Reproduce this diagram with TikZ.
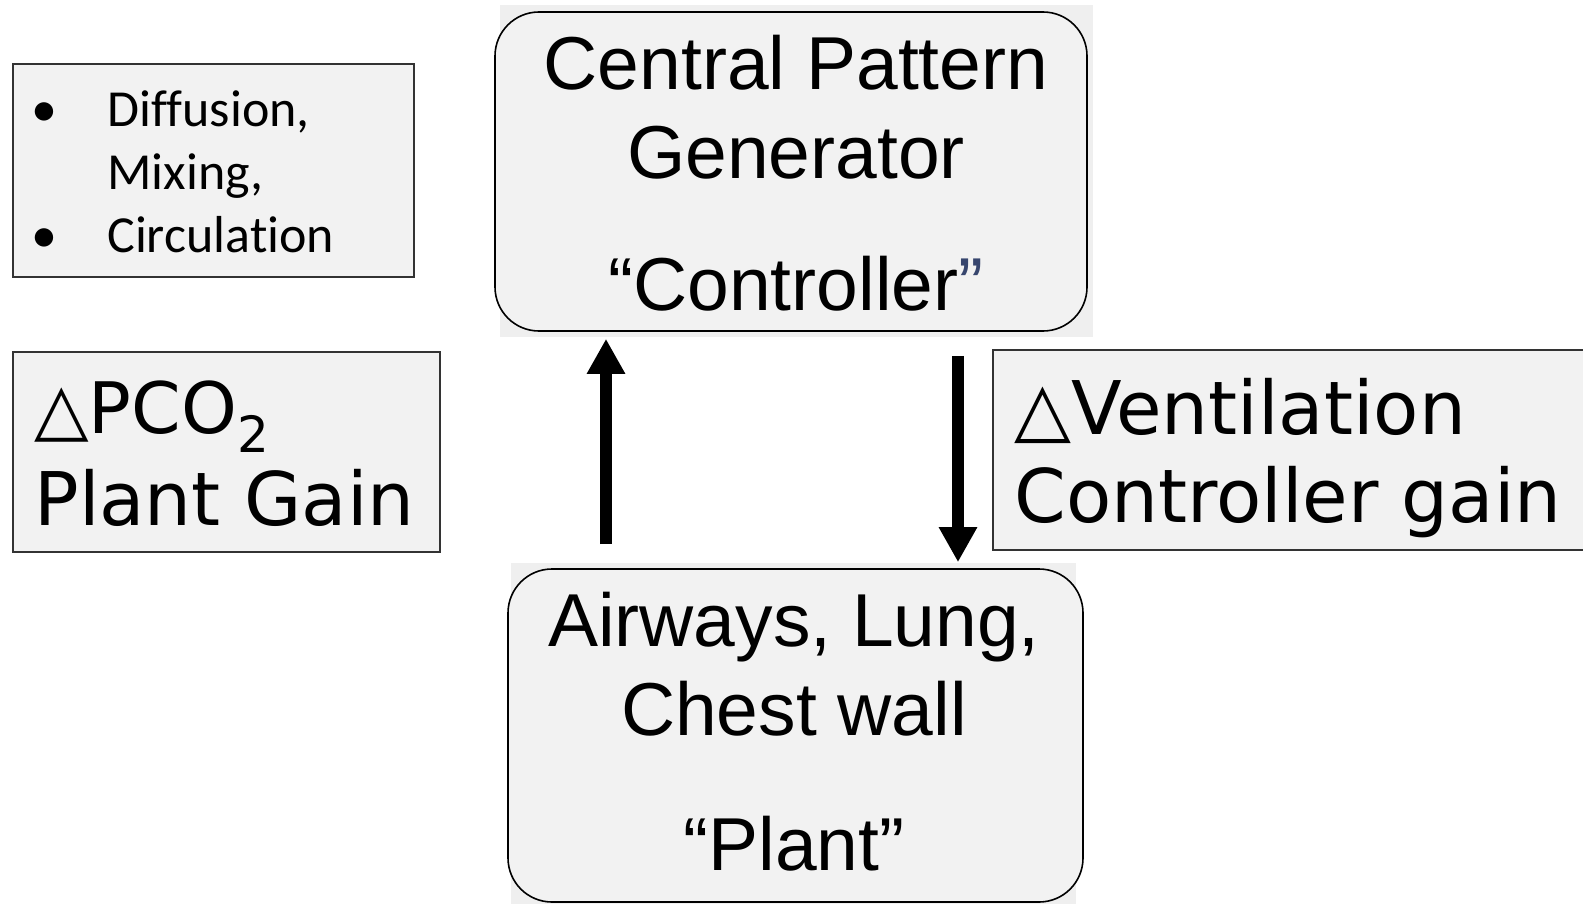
\documentclass[tikz,border=0pt]{standalone}
\usepackage{fontspec}
\setmainfont{Liberation Sans}
\newfontfamily\verdfont{DejaVu Sans}
\newfontfamily\califont[Ligatures=NoCommon]{Carlito}
\usetikzlibrary{arrows.meta}

\definecolor{boxgray}{HTML}{F2F2F2}
\definecolor{backgray}{HTML}{EFEFEF}
\definecolor{quoteblue}{RGB}{55,70,110}

\tikzset{
	stage/.style={draw=black, line width=0.8pt, fill=boxgray, rounded corners=22pt, inner sep=0pt},
	note/.style={draw=black!80, line width=1pt, fill=boxgray, inner sep=0pt},
	flow/.style={line width=6pt, -{Triangle[length=17.5pt, width=18pt]}},
}

\begin{document}
\begin{tikzpicture}[x=0.5pt, y=-0.5pt]
	\useasboundingbox (0,0) rectangle (1583,904);
	
	% controller and plant
	\fill[backgray] (500,5) rectangle (1093,337);
	\node[stage, minimum width=296pt, minimum height=159.5pt] (ctrl) at (791,171.5) {};
	\node[anchor=base, align=center, inner sep=0pt, font=\fontsize{37.5}{44.5}\selectfont] (ctrl text) at (796,310)
		{Central Pattern\\Generator\\[21.5pt]“Controller\textcolor{quoteblue}{”}};
	
	\fill[backgray] (511,563) rectangle (1076,904);
	\node[stage, minimum width=287.5pt, minimum height=166.5pt] (plant) at (795.5,735.5) {};
	\node[anchor=base, align=center, inner sep=0pt, font=\fontsize{37.5}{44.5}\selectfont] (plant text) at (794,870)
		{Airways, Lung,\\Chest wall\\[23pt]“Plant”};
	
	% side notes
	\node[note, minimum width=200.5pt, minimum height=106.5pt] (mix) at (213.5,170.5) {};
	\node[anchor=base west, align=left, inner sep=0pt, font=\califont\fontsize{26}{31.5}\selectfont] (mix text) at (31,252)
		{\makebox[38pt][l]{•}Diffusion,\\\hspace*{38pt}Mixing,\\\makebox[38pt][l]{•}Circulation};
	
	\node[note, minimum width=213.5pt, minimum height=100pt] (pgain) at (226.5,452) {};
	\node[anchor=base west, align=left, inner sep=0pt, font=\verdfont\fontsize{37}{46}\selectfont] (pgain text) at (34,525)
		{{\fontsize{35.5}{35.5}\selectfont △PCO\raisebox{-9.5pt}{\fontsize{25}{25}\selectfont 2}}\\Plant Gain};
	
	\node[note, minimum width=300pt, minimum height=100pt] (cgain) at (1293,450) {};
	\node[anchor=base west, align=left, inner sep=0pt, font=\verdfont\fontsize{37}{44}\selectfont] (cgain text) at (1014,522)
		{△Ventilation\\Controller gain};
	
	% loop arrows
	\coordinate (upx) at (606,0);
	\coordinate (downx) at (958,0);
	\draw[flow, shorten <=12pt, shorten >=3.5pt] (plant.north -| upx) -- (ctrl.south -| upx);
	\draw[flow, shorten <=12pt, shorten >=3pt] (ctrl.south -| downx) -- (plant.north -| downx);
\end{tikzpicture}
\end{document}
